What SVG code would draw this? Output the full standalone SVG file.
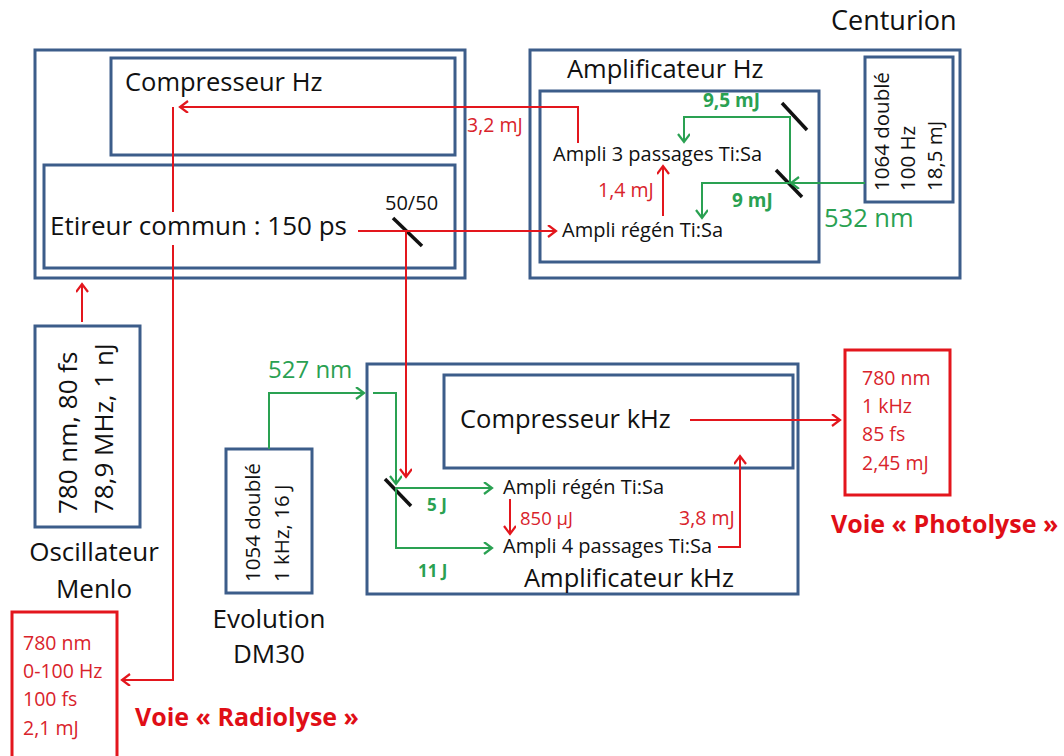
<svg xmlns="http://www.w3.org/2000/svg" width="1064" height="756" viewBox="0 0 1064 756">
<style>
.box{fill:none;stroke:#3c5d8a;stroke-width:3}
.rbox{fill:none;stroke:#e3161d;stroke-width:3}
.t{font-family:"Open Sans","Liberation Sans",sans-serif;fill:#111}
.rt{font-family:"Open Sans","Liberation Sans",sans-serif;fill:#d9232b}
.gt{font-family:"Open Sans","Liberation Sans",sans-serif;fill:#2aa152}
.rb{font-family:"Open Sans","Liberation Sans",sans-serif;fill:#e00e16;font-weight:bold}
.r{fill:none;stroke:#e3161d;stroke-width:2}
.g{fill:none;stroke:#2aa152;stroke-width:2}
.m{stroke:#111;stroke-width:3.5}
</style>
<defs>
<marker id="ar" markerUnits="userSpaceOnUse" markerWidth="14" markerHeight="14" refX="10" refY="6" orient="auto"><path d="M2,0 L10,6 L2,12" fill="none" stroke="#e3161d" stroke-width="2.2"/></marker>
<marker id="ag" markerUnits="userSpaceOnUse" markerWidth="14" markerHeight="14" refX="10" refY="6" orient="auto"><path d="M2,0 L10,6 L2,12" fill="none" stroke="#2aa152" stroke-width="2.2"/></marker>
</defs>
<rect width="1064" height="756" fill="#fff"/>

<g id="stretcher-compressor-hz">
<rect class="box" x="35" y="50" width="430" height="228"/>
<rect class="box" x="111" y="58" width="344" height="97"/>
<text class="t" x="125" y="91" font-size="25.5">Compresseur Hz</text>
<rect class="box" x="44" y="165" width="411" height="103"/>
<text class="t" x="50" y="235" font-size="26">Etireur commun : 150 ps</text>
<text class="t" x="385" y="210" font-size="20">50/50</text>
<line class="m" x1="393" y1="218" x2="422" y2="246"/>
</g>

<g id="centurion">
<text class="t" x="831" y="30" font-size="27">Centurion</text>
<rect class="box" x="530" y="50" width="430" height="228"/>
<text class="t" x="567" y="78" font-size="25.5">Amplificateur Hz</text>
<rect class="box" x="540" y="91" width="279" height="171"/>
<text class="t" x="553" y="161" font-size="20">Ampli 3 passages Ti:Sa</text>
<text class="t" x="562" y="237" font-size="20">Ampli régén Ti:Sa</text>
<line class="m" x1="782" y1="103" x2="807" y2="130"/>
<line class="m" x1="776" y1="170" x2="802" y2="197"/>
<rect class="box" x="865" y="57" width="88" height="145"/>
<text class="t" font-size="20.5" transform="translate(889,191) rotate(-90)">1064 doublé</text>
<text class="t" font-size="20.5" transform="translate(915,191) rotate(-90)">100 Hz</text>
<text class="t" font-size="20.5" transform="translate(942,191) rotate(-90)">18,5 mJ</text>
<text class="gt" x="824" y="227" font-size="25.5">532 nm</text>
</g>

<g id="oscillateur">
<rect class="box" x="35" y="326" width="105" height="201"/>
<text class="t" font-size="26" transform="translate(77,514) rotate(-90)">780 nm, 80 fs</text>
<text class="t" font-size="26" transform="translate(113,514) rotate(-90)">78,9 MHz, 1 nJ</text>
<text class="t" x="94" y="561" font-size="26" text-anchor="middle">Oscillateur</text>
<text class="t" x="94" y="598" font-size="26" text-anchor="middle">Menlo</text>
</g>

<g id="radiolyse">
<rect class="rbox" x="12" y="612" width="105" height="146"/>
<text class="rt" x="23" y="650" font-size="19.5">780 nm</text>
<text class="rt" x="23" y="678" font-size="19.5">0-100 Hz</text>
<text class="rt" x="23" y="706" font-size="19.5">100 fs</text>
<text class="rt" x="23" y="735" font-size="19.5">2,1 mJ</text>
<text class="rb" x="135" y="726" font-size="25">Voie « Radiolyse »</text>
</g>

<g id="evolution">
<rect class="box" x="226" y="449" width="86" height="144"/>
<text class="t" font-size="20.5" transform="translate(260,582) rotate(-90)">1054 doublé</text>
<text class="t" font-size="20.5" transform="translate(289,582) rotate(-90)">1 kHz, 16 J</text>
<text class="t" x="269" y="628" font-size="26" text-anchor="middle">Evolution</text>
<text class="t" x="269" y="663" font-size="26" text-anchor="middle">DM30</text>
<text class="gt" x="268" y="378" font-size="24">527 nm</text>
</g>

<g id="amplificateur-khz">
<rect class="box" x="367" y="364" width="431" height="230"/>
<rect class="box" x="444" y="375" width="349" height="93"/>
<text class="t" x="460" y="428" font-size="25.5">Compresseur kHz</text>
<text class="t" x="503" y="494" font-size="20">Ampli régén Ti:Sa</text>
<text class="t" x="503" y="553" font-size="20">Ampli 4 passages Ti:Sa</text>
<text class="t" x="524" y="587" font-size="25.5">Amplificateur kHz</text>
<line class="m" x1="385" y1="479" x2="411" y2="506"/>
</g>

<g id="photolyse">
<rect class="rbox" x="845" y="350" width="105" height="145"/>
<text class="rt" x="862" y="385" font-size="19.5">780 nm</text>
<text class="rt" x="862" y="413" font-size="19.5">1 kHz</text>
<text class="rt" x="862" y="441" font-size="19.5">85 fs</text>
<text class="rt" x="862" y="470" font-size="19.5">2,45 mJ</text>
<text class="rb" x="831" y="533" font-size="25">Voie « Photolyse »</text>
</g>

<g id="connectors">
<polyline class="r" points="578,143 578,107 180,107" marker-end="url(#ar)"/>
<line class="r" x1="173" y1="107" x2="173" y2="212"/>
<polyline class="r" points="173,245 173,680 122,680" marker-end="url(#ar)"/>
<line class="r" x1="82" y1="322" x2="82" y2="284" marker-end="url(#ar)"/>
<line class="r" x1="358" y1="231" x2="556" y2="231" marker-end="url(#ar)"/>
<line class="r" x1="406" y1="231" x2="406" y2="477" marker-end="url(#ar)"/>
<line class="r" x1="663" y1="216" x2="663" y2="166" marker-end="url(#ar)"/>
<line class="r" x1="690" y1="420" x2="840" y2="420" marker-end="url(#ar)"/>
<line class="r" x1="510" y1="499" x2="510" y2="534" marker-end="url(#ar)"/>
<polyline class="r" points="718,547 740,547 740,456" marker-end="url(#ar)"/>
<line class="g" x1="865" y1="183" x2="791" y2="183" marker-end="url(#ag)"/>
<polyline class="g" points="790,183 790,117 684,117 684,142" marker-end="url(#ag)"/>
<polyline class="g" points="790,183 702,183 702,218" marker-end="url(#ag)"/>
<polyline class="g" points="269,449 269,393 364,393" marker-end="url(#ag)"/>
<polyline class="g" points="373,393 396,393 396,484" marker-end="url(#ag)"/>
<line class="g" x1="396" y1="488" x2="492" y2="488" marker-end="url(#ag)"/>
<polyline class="g" points="396,488 396,548 492,548" marker-end="url(#ag)"/>
<text class="rt" x="467" y="132" font-size="19.5">3,2 mJ</text>
<text class="rt" x="598" y="197" font-size="19.5">1,4 mJ</text>
<text class="gt" x="703" y="107" font-size="19" font-weight="bold">9,5 mJ</text>
<text class="gt" x="732" y="207" font-size="19" font-weight="bold">9 mJ</text>
<text class="gt" x="427" y="511" font-size="17" font-weight="bold">5 J</text>
<text class="gt" x="418" y="577" font-size="17" font-weight="bold">11 J</text>
<text class="rt" x="520" y="525" font-size="18.5">850 µJ</text>
<text class="rt" x="679" y="525" font-size="19.5">3,8 mJ</text>
</g>
</svg>
